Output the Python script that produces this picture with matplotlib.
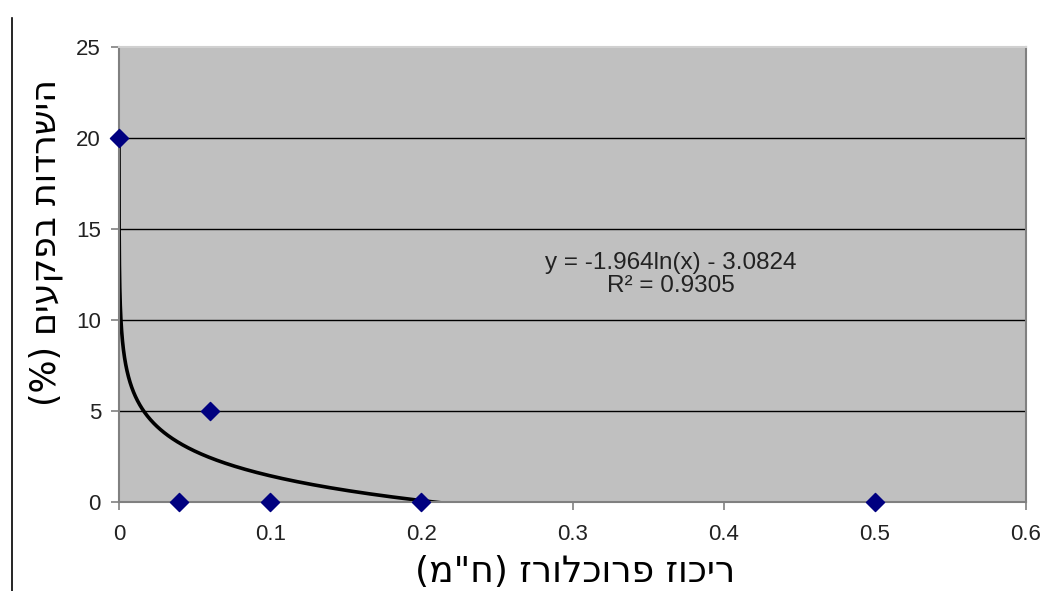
#!/usr/bin/env python3
"""
Survival vs. prochloraz concentration, with Excel-style log trendline.
"""

import numpy as np
import matplotlib
matplotlib.use("Agg")
import matplotlib.pyplot as plt
from matplotlib.lines import Line2D

# measured points
conc = [0.0, 0.04, 0.06, 0.1, 0.2, 0.5]
survival = [20, 0, 5, 0, 0, 0]

# trendline coefficients as printed on the chart: y = a*ln(x) + b
trend_a = -1.964
trend_b = -3.0824
r_squared = 0.9305

x_ticks = [0, 0.1, 0.2, 0.3, 0.4, 0.5, 0.6]
y_ticks = [0, 5, 10, 15, 20, 25]

x_label = 'ריכוז פרוכלורז (ח"מ)'
y_label = "הישרדות בפקעים (%)"


def visual_rtl(s):
    # matplotlib has no bidi support: reverse and mirror brackets
    mirror = {"(": ")", ")": "("}
    return "".join(mirror.get(c, c) for c in reversed(s))


def main():
    plt.rcParams["font.family"] = ["Liberation Sans", "DejaVu Sans"]

    fig = plt.figure(figsize=(10.49, 5.91), dpi=100)
    ax = fig.add_axes([119 / 1049, 1 - 502 / 591, 907 / 1049, 455 / 591])
    ax.set_facecolor("#c0c0c0")

    ax.set_xlim(0, 0.6)
    ax.set_ylim(0, 25)
    ax.set_xticks(x_ticks)
    ax.set_yticks(y_ticks)
    ax.set_xticklabels([f"{t:g}" for t in x_ticks])
    ax.set_yticklabels([str(t) for t in y_ticks])

    for t in y_ticks[1:-1]:
        ax.axhline(t, color="black", lw=1.0, zorder=1)

    for side in ["left", "bottom", "right"]:
        ax.spines[side].set_color("#808080")
        ax.spines[side].set_linewidth(1.5)
    ax.spines["top"].set_color("#d0d0d0")
    ax.spines["top"].set_linewidth(1.5)

    ax.tick_params(axis="both", direction="out", length=6, width=1.2,
                   color="#808080", labelsize=16, labelcolor="#222222")
    ax.tick_params(axis="x", pad=10)
    ax.tick_params(axis="y", pad=7)

    # trendline, drawn from the first point's height down to the axis
    x_start = np.exp((max(survival) - trend_b) / trend_a)
    xs = np.geomspace(x_start, 0.23, 600)
    ys = trend_a * np.log(xs) + trend_b
    ax.plot(xs, ys, color="black", lw=2.6, zorder=2)

    ax.scatter(conc, survival, marker="D", s=85, color="#000080",
               zorder=4, clip_on=False)

    ax.text(0.365, 12.5,
            f"y = {trend_a}ln(x) - {abs(trend_b)}\nR² = {r_squared}",
            ha="center", va="center", fontsize=17.5, multialignment="center",
            color="#222222", linespacing=1.05)

    ax.set_xlabel(visual_rtl(x_label), fontsize=26, family=["DejaVu Sans"])
    ax.xaxis.set_label_coords((575 - 119) / 907, -(572 - 502) / 455)
    ax.set_ylabel(visual_rtl(y_label), fontsize=25, family=["DejaVu Sans"])
    ax.yaxis.set_label_coords(-(119 - 46) / 907, (502 - 243) / 455)
    ax.xaxis.label.set_va("center")
    ax.yaxis.label.set_va("center")

    fig.add_artist(Line2D([12 / 1049, 12 / 1049], [0, 1 - 18 / 591],
                          color="black", lw=1.2))

    fig.savefig("out.png", dpi=100)


if __name__ == "__main__":
    main()
